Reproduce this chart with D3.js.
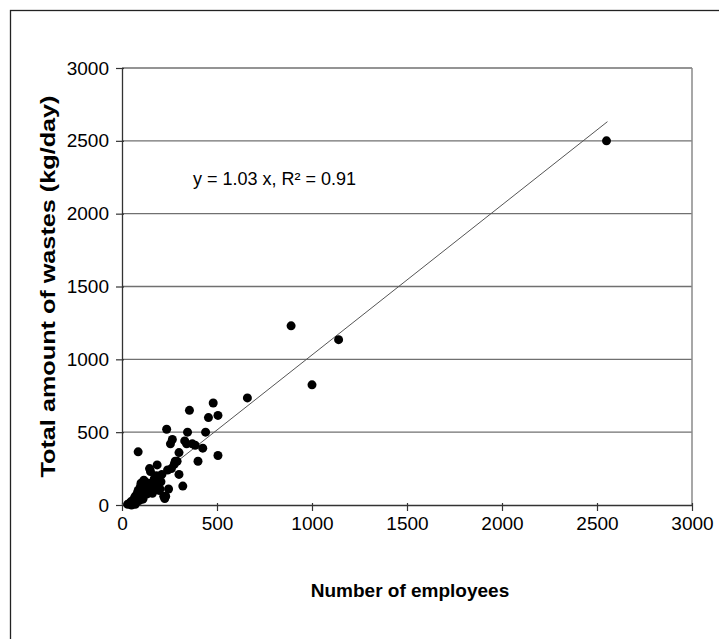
<!DOCTYPE html>
<html>
<head>
<meta charset="utf-8">
<script src="https://cdn.jsdelivr.net/npm/d3@7"></script>
<style>
  body { margin: 0; background: #fff; }
  svg { display: block; font-family: "Liberation Sans", Arial, sans-serif; }
</style>
</head>
<body>
<div id="chart"></div>
<script>
// employees vs total wastes (kg/day)
const employees = [30, 40, 45, 50, 55, 60, 65, 70, 70, 75, 80, 85, 90, 90, 95, 100, 100, 105, 110, 110,
  115, 120, 120, 125, 130, 130, 135, 140, 145, 150, 155, 160, 165, 170, 175, 180, 185, 195, 200, 205,
  210, 220, 225, 230, 235, 240, 245, 255, 260, 265, 275, 280, 290, 300, 300, 320, 330, 340, 345, 355,
  370, 385, 400, 425, 440, 455, 480, 505, 505, 85, 660, 890, 1000, 1140, 2550];
const wastes = [5, 10, 20, 0, 30, 15, 45, 60, 5, 35, 80, 100, 65, 30, 120, 50, 150, 90, 140, 40,
  170, 70, 160, 110, 95, 75, 130, 150, 250, 230, 120, 80, 105, 180, 140, 200, 275, 100, 110, 160,
  210, 60, 45, 60, 520, 240, 110, 420, 250, 450, 280, 300, 300, 210, 360, 130, 440, 420, 500, 650,
  420, 410, 300, 390, 500, 600, 700, 615, 340, 365, 735, 1230, 825, 1135, 2500];
const points = employees.map((e, i) => [e, wastes[i]]);

const slope = 1.03;
const fitRange = [0, 2555];
const xTicks = [0, 500, 1000, 1500, 2000, 2500, 3000];
const yTicks = [0, 500, 1000, 1500, 2000, 2500, 3000];

const W = 719, H = 639;
const plot = { left: 122, right: 692, top: 68, bottom: 505 };

const svg = d3.select("#chart").append("svg").attr("width", W).attr("height", H);

// outer frame
svg.append("rect").attr("x", 10.5).attr("y", 10.5).attr("width", W + 20).attr("height", H + 20)
  .attr("fill", "none").attr("stroke", "#222").attr("stroke-width", 1.3);

const x = d3.scaleLinear().domain([0, 3000]).range([plot.left, plot.right]);
const y = d3.scaleLinear().domain([0, 3000]).range([plot.bottom, plot.top]);

// grid lines
svg.append("g").selectAll("line").data(yTicks.slice(1)).join("line")
  .attr("x1", plot.left).attr("x2", plot.right).attr("y1", d => y(d)).attr("y2", d => y(d))
  .attr("stroke", "#707070").attr("stroke-width", 1.3);

// plot area border (right side)
svg.append("line").attr("x1", plot.right).attr("x2", plot.right).attr("y1", plot.top).attr("y2", plot.bottom)
  .attr("stroke", "#8a8a8a").attr("stroke-width", 1.5);

const fmt = d3.format("d");
const xAxis = svg.append("g").attr("transform", `translate(0,${plot.bottom})`)
  .call(d3.axisBottom(x).tickValues(xTicks).tickFormat(fmt).tickSize(6).tickSizeOuter(0).tickPadding(6));
const yAxis = svg.append("g").attr("transform", `translate(${plot.left},0)`)
  .call(d3.axisLeft(y).tickValues(yTicks).tickFormat(fmt).tickSize(6).tickSizeOuter(0).tickPadding(7));

[xAxis, yAxis].forEach(a => {
  a.select(".domain").attr("stroke", "#333").attr("stroke-width", 1.3);
  a.selectAll(".tick line").attr("stroke", "#333").attr("stroke-width", 1.2);
  a.selectAll(".tick text").attr("font-size", 19).attr("fill", "#000")
    .attr("font-family", "Liberation Sans, Arial, sans-serif");
});
// ticks on the x axis go through the axis a little
xAxis.selectAll(".tick line").attr("y1", -2);
yAxis.selectAll(".tick line").attr("x1", 2);

// regression line
svg.append("line")
  .attr("x1", x(fitRange[0])).attr("y1", y(fitRange[0] * slope))
  .attr("x2", x(fitRange[1])).attr("y2", y(fitRange[1] * slope))
  .attr("stroke", "#555").attr("stroke-width", 1);

// points
svg.append("g").selectAll("circle").data(points).join("circle")
  .attr("cx", d => x(d[0])).attr("cy", d => y(d[1])).attr("r", 4.5)
  .attr("fill", "#000");

svg.append("text").attr("x", 193).attr("y", 185).attr("font-size", 18)
  .text("y = 1.03 x,  R² = 0.91");

svg.append("text").attr("x", 410).attr("y", 597)
  .attr("text-anchor", "middle").attr("font-size", 19).attr("font-weight", "bold")
  .text("Number of employees");

svg.append("text").attr("transform", `translate(55,${(plot.top + plot.bottom) / 2}) rotate(-90)`)
  .attr("text-anchor", "middle").attr("font-size", 21).attr("font-weight", "bold")
  .attr("textLength", 382).attr("lengthAdjust", "spacingAndGlyphs")
  .text("Total amount of wastes (kg/day)");
</script>
</body>
</html>
